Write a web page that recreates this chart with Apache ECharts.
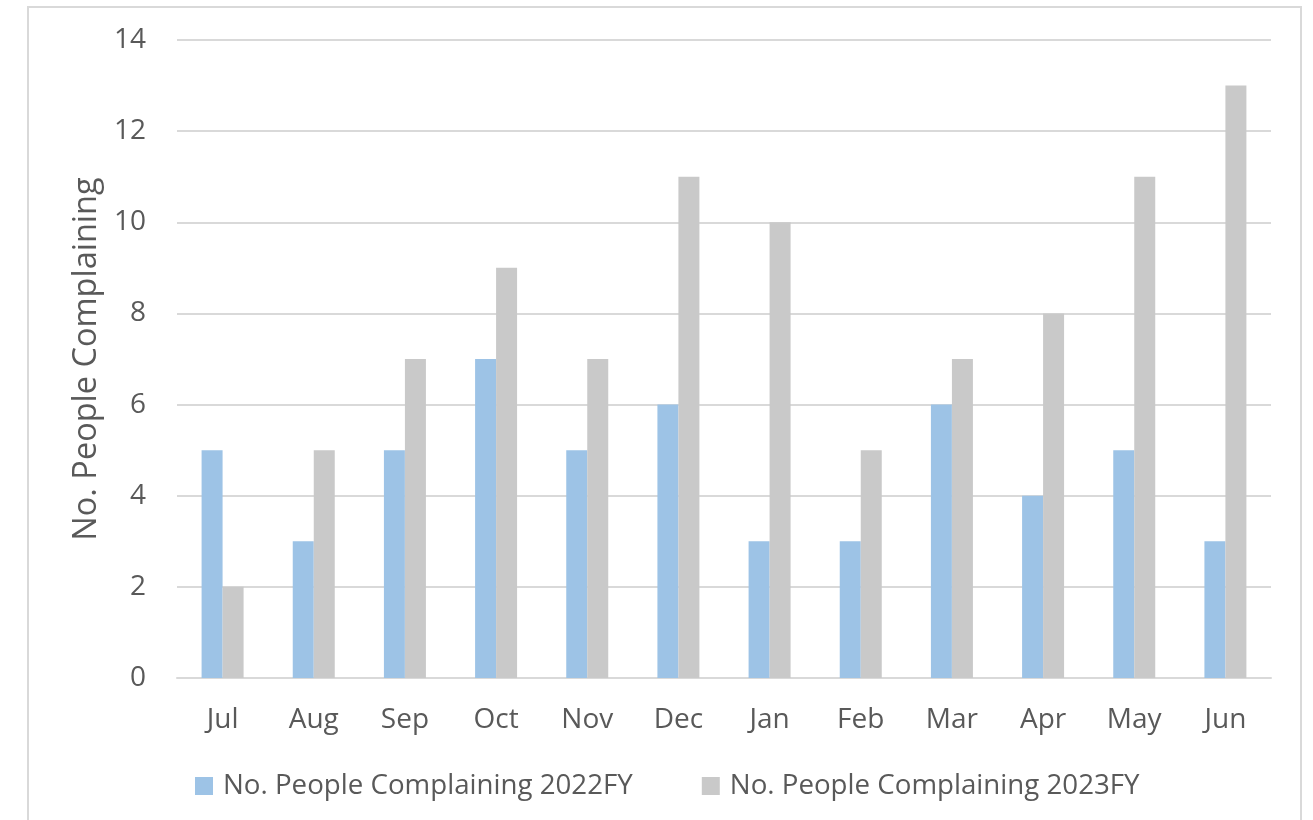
<!DOCTYPE html>
<html>
<head>
<meta charset="utf-8">
<script src="https://cdn.jsdelivr.net/npm/echarts@6/dist/echarts.min.js"></script>
<style>
html,body{margin:0;padding:0;background:#fff;}
#c{width:1313px;height:820px;}
</style>
</head>
<body>
<div id="c"></div>
<script>
const months = ['Jul','Aug','Sep','Oct','Nov','Dec','Jan','Feb','Mar','Apr','May','Jun'];
const fy2022 = [5,3,5,7,5,6,3,3,6,4,5,3];
const fy2023 = [2,5,7,9,7,11,10,5,7,8,11,13];
const seriesNames = ['No. People Complaining 2022FY','No. People Complaining 2023FY'];
const yTitle = 'No. People Complaining';

const font = 'Open Sans';
const txt = '#595959';
const chart = echarts.init(document.getElementById('c'));
chart.setOption({
  animation:false,
  textStyle:{fontFamily:font},
  graphic:[{type:'rect',silent:true,shape:{x:28,y:7,width:1273,height:840},style:{fill:'none',stroke:'#d9d9d9',lineWidth:2}}],
  grid:{left:177,right:42,top:40,bottom:142},
  legend:{
    left:190, top:767, itemWidth:18, itemHeight:18, itemGap:69,
    icon:'rect',
    textStyle:{fontFamily:font,fontSize:27.7,color:txt,padding:[0,0,0,5]},
    data:seriesNames
  },
  xAxis:{
    type:'category', data:months,
    axisLine:{lineStyle:{color:'#d9d9d9',width:2}},
    axisTick:{show:false},
    axisLabel:{fontFamily:font,fontSize:28,color:txt,margin:28}
  },
  yAxis:{
    type:'value', min:0, max:14, interval:2,
    name:yTitle, nameLocation:'middle', nameRotate:90, nameGap:73,
    nameTextStyle:{fontFamily:font,fontSize:32.5,color:txt},
    axisLine:{show:false}, axisTick:{show:false},
    splitLine:{lineStyle:{color:'#d9d9d9',width:2}},
    axisLabel:{fontFamily:font,fontSize:28,color:txt,margin:31}
  },
  series:[
    {name:seriesNames[0],type:'bar',data:fy2022,barWidth:21,barGap:'0%',itemStyle:{color:'#9dc3e6'}},
    {name:seriesNames[1],type:'bar',data:fy2023,barWidth:21,barGap:'0%',itemStyle:{color:'#c9c9c9'}}
  ]
});
</script>
</body>
</html>
